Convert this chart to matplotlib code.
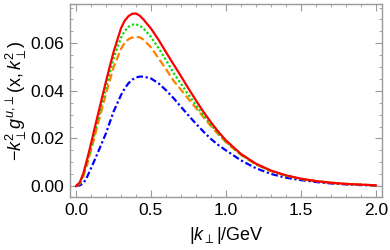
import matplotlib
matplotlib.use("Agg")
import matplotlib.pyplot as plt
from matplotlib.ticker import MultipleLocator, FormatStrFormatter

k = [0.0, 0.025, 0.05, 0.075, 0.1, 0.125, 0.15, 0.2, 0.25, 0.3, 0.325, 0.35, 0.375, 0.4,
     0.425, 0.45, 0.5, 0.55, 0.6, 0.65, 0.7, 0.75, 0.8, 0.85, 0.9, 0.95, 1.0,
     1.1, 1.2, 1.3, 1.4, 1.5, 1.6, 1.7, 1.8, 1.9, 2.0]

red = [0.0, 0.0015, 0.0055, 0.0115, 0.0178, 0.0245, 0.031, 0.044, 0.0562, 0.0663, 0.0695,
       0.0714, 0.0724, 0.0725, 0.0716, 0.0700, 0.0662, 0.0615, 0.0563, 0.0512, 0.0462,
       0.0410, 0.0360, 0.0312, 0.0268, 0.0228, 0.0192,
       0.0135, 0.0094, 0.0065, 0.0045, 0.0031, 0.0021, 0.0014, 0.0009, 0.0006, 0.0003]
green = [0.0, 0.0012, 0.0048, 0.0103, 0.0162, 0.0225, 0.0288, 0.0415, 0.0535, 0.0623, 0.0652,
         0.0669, 0.0678, 0.0680, 0.0674, 0.0662, 0.0627, 0.0580, 0.0530, 0.0476, 0.0430,
         0.0384, 0.0340, 0.0298, 0.0258, 0.0221, 0.0187,
         0.0132, 0.0092, 0.0064, 0.0044, 0.0030, 0.0021, 0.0014, 0.0009, 0.0006, 0.0003]
orange = [0.0, 0.0010, 0.0042, 0.0093, 0.0150, 0.0210, 0.0270, 0.0388, 0.0498, 0.0576, 0.0602,
          0.0617, 0.0624, 0.0627, 0.0625, 0.0615, 0.0583, 0.0537, 0.0492, 0.0443, 0.0405,
          0.0366, 0.0328, 0.0290, 0.0252, 0.0217, 0.0184,
          0.0131, 0.0091, 0.0063, 0.0044, 0.0030, 0.0021, 0.0014, 0.0009, 0.0006, 0.0003]
blue = [0.0, 0.0003, 0.0012, 0.0040, 0.0074, 0.0110, 0.0147, 0.0222, 0.0312, 0.0382, 0.0410,
        0.0432, 0.0447, 0.0456, 0.0460, 0.0460, 0.0452, 0.0432, 0.0403, 0.0370, 0.0333,
        0.0297, 0.0262, 0.0229, 0.0198, 0.0172, 0.0150,
        0.0108, 0.0075, 0.0051, 0.0035, 0.0025, 0.0017, 0.0011, 0.0007, 0.0004, 0.0002]

xticks = [0.0, 0.5, 1.0, 1.5, 2.0]
yticks = [0.00, 0.02, 0.04, 0.06]

plt.rcParams['font.family'] = ['Liberation Sans', 'DejaVu Sans']
plt.rcParams['mathtext.fontset'] = 'custom'
plt.rcParams['mathtext.rm'] = 'Liberation Sans'
plt.rcParams['mathtext.it'] = 'Liberation Sans:italic'
plt.rcParams['mathtext.bf'] = 'Liberation Sans:bold'

fig = plt.figure(figsize=(3.9, 2.5), dpi=100)
ax = fig.add_axes([0.1795, 0.212, 0.7995, 0.772])

lw = 1.6
ax.plot(k, blue, color='#0000ff', lw=lw, ls=(0, (3, 1.2, 1, 1.2)))
ax.plot(k, orange, color='#ff8000', lw=lw, ls=(0, (3.5, 1.5)))
ax.plot(k, green, color='#00dd00', lw=lw, ls=(0, (1, 1)))
ax.plot(k, red, color='#ff0000', lw=lw, ls='-')

ax.set_xlim(-0.04, 2.04)
ax.set_ylim(-0.0046, 0.0765)
ax.set_xticks(xticks)
ax.set_yticks(yticks)
ax.xaxis.set_major_formatter(FormatStrFormatter('%.1f'))
ax.yaxis.set_major_formatter(FormatStrFormatter('%.2f'))
ax.xaxis.set_minor_locator(MultipleLocator(0.1))
ax.yaxis.set_minor_locator(MultipleLocator(0.005))

fc = '#999999'
for s in ax.spines.values():
    s.set_color(fc)
    s.set_linewidth(1.0)
ax.tick_params(which='both', direction='in', top=True, right=True, color=fc,
               labelsize=12.5, labelcolor='black')
ax.tick_params(which='major', length=5, width=0.8, pad=4)
ax.tick_params(which='minor', length=2.5, width=0.6)

ax.set_xlabel(r'$|k_{\perp}|/\mathrm{GeV}$', fontsize=13, labelpad=5)
ax.set_ylabel(r'$\mathrm{-}k_{\perp}^{2}g^{u,\!\perp}(\mathrm{x},k_{\perp}^{2})$', fontsize=13, labelpad=1)

fig.savefig('out.png', dpi=100)
